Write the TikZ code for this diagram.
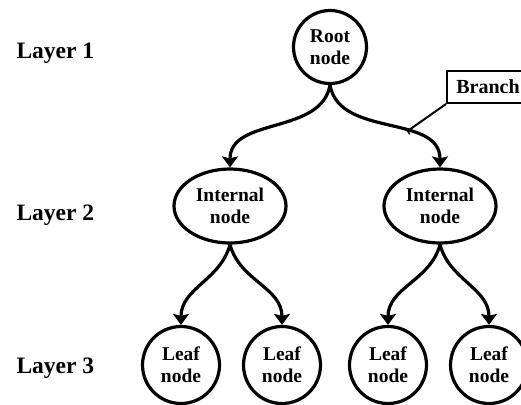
\documentclass[tikz,border=0pt]{standalone}
\usepackage{fontspec}
\setmainfont{Liberation Serif}
\usepackage{tikz}
\usetikzlibrary{shapes.geometric, arrows.meta, positioning}

\begin{document}
\begin{tikzpicture}[x=1pt, y=1pt,
        treenode/.style={draw, circle, line width=3.2pt, minimum size=73pt, inner sep=0pt, align=center, font=\fontsize{19.5}{22}\selectfont\bfseries},
        innernode/.style={treenode, ellipse, minimum width=112pt, minimum height=74pt},
        leafnode/.style={treenode, minimum size=77pt},
        layer/.style={anchor=base west, font=\fontsize{23.5}{27}\selectfont\bfseries},
        edge/.style={line width=3.2pt, -{Stealth[length=11pt, width=16pt, inset=2pt]}}]
        \useasboundingbox (0,0) rectangle (521,-404);

        % layer labels
        \node[layer] (l1) at (13,-58) {Layer 1};
        \node[layer] (l2) at (13,-220) {Layer 2};
        \node[layer] (l3) at (13,-373) {Layer 3};

        % the tree
        \node[treenode] (root) at (330,-47) {Root\\node};
        \node[innernode] (int1) at (230,-206) {Internal\\node};
        \node[innernode] (int2) at (440,-206) {Internal\\node};
        \node[leafnode] (leaf1) at (181,-365) {Leaf\\node};
        \node[leafnode] (leaf2) at (282,-365) {Leaf\\node};
        \node[leafnode] (leaf3) at (388,-365) {Leaf\\node};
        \node[leafnode] (leaf4) at (489,-365) {Leaf\\node};

        \draw[edge] (root.south) to[out=-100, in=90] (int1.north);
        \draw[edge] (root.south) to[out=-80, in=90] coordinate[pos=0.62] (brpt) (int2.north);
        \draw[edge] (int1.south) to[out=-105, in=90] (leaf1.north);
        \draw[edge] (int1.south) to[out=-75, in=90] (leaf2.north);
        \draw[edge] (int2.south) to[out=-105, in=90] (leaf3.north);
        \draw[edge] (int2.south) to[out=-75, in=90] (leaf4.north);

        % callout for a branch
        \node[draw, line width=2pt, anchor=north west, minimum height=32pt, minimum width=82pt, font=\fontsize{20}{24}\selectfont\bfseries] (branch) at (446,-70) {Branch};
        \draw[line width=2pt, -{Bar[width=8pt, line width=1.5pt]}] (branch.south west) -- (brpt);
    \end{tikzpicture}
\end{document}
